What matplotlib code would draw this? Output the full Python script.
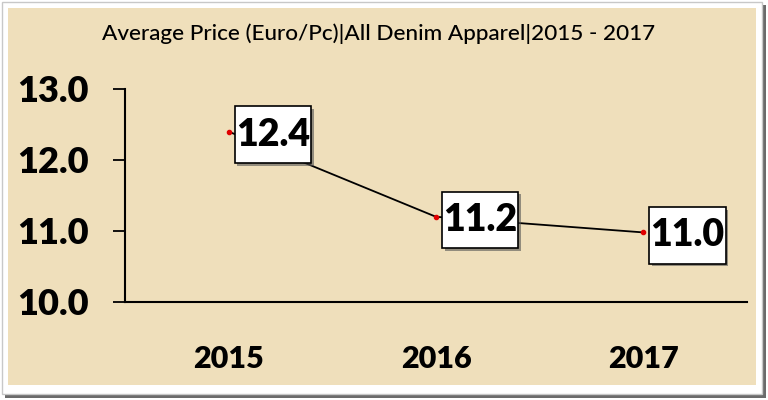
import matplotlib.pyplot as plt
import matplotlib.patheffects as pe
from matplotlib.patches import Rectangle

# Data
years = ['2015', '2016', '2017']
avg_price = [12.4, 11.2, 10.98]
price_labels = ['12.4', '11.2', '11.0']
y_ticks = [10.0, 11.0, 12.0, 13.0]

plt.rcParams['font.family'] = ['Lato', 'DejaVu Sans']

W, H = 768, 400
fig = plt.figure(figsize=(W / 100, H / 100), dpi=100)
fig.patch.set_facecolor('white')

def px_rect(x0, y0, x1, y1, **kw):
    # rectangle in image pixel coords (y down)
    r = Rectangle((x0 / W, 1 - y1 / H), (x1 - x0) / W, (y1 - y0) / H,
                  transform=fig.transFigure, **kw)
    fig.patches.append(r)

# frame: shadow, white mat, parchment
px_rect(5, 5, 766, 398, facecolor='#6b6b6b', edgecolor='none', zorder=0)
px_rect(1.5, 1.5, 762, 394, facecolor='white', edgecolor='#c8c8c8', lw=1, zorder=1)
px_rect(8, 8, 756, 385, facecolor='#efdfbb', edgecolor='none', zorder=2)

ax = fig.add_axes([125 / W, 1 - 302 / H, (747 - 125) / W, (302 - 89) / H])
ax.set_facecolor('none')
ax.set_zorder(3)

x = list(range(len(years)))
ax.plot(x, avg_price, color='black', lw=1.3, zorder=2)
ax.plot(x, avg_price, 'o', color='#e00000', ms=3, zorder=3)

for xi, yi, lab in zip(x, avg_price, price_labels):
    t = ax.annotate(lab, (xi, yi), xytext=(7, -3), textcoords='offset pixels',
                    ha='left', va='center', fontsize=27, fontweight='heavy',
                    bbox=dict(boxstyle='square,pad=0.03', mutation_aspect=10,
                              fc='white', ec='black', lw=1.2),
                    zorder=4)
    t.get_bbox_patch().set_path_effects([
        pe.SimplePatchShadow(offset=(2, -2), shadow_rgbFace='#555555', alpha=0.6),
        pe.Normal()])

ax.set_xlim(-0.5, 2.5)
ax.set_ylim(10, 13)
ax.set_xticks(x)
ax.set_xticklabels(years, fontsize=22, fontweight='heavy')
ax.set_yticks(y_ticks)
ax.set_yticklabels([f'{v:.1f}' for v in y_ticks], fontsize=26, fontweight='heavy')
ax.tick_params(axis='x', length=0, pad=31)
ax.tick_params(axis='y', length=9, width=1.3, direction='out', pad=17)

for s in ['top', 'right']:
    ax.spines[s].set_visible(False)
ax.spines['left'].set_linewidth(1.5)
ax.spines['bottom'].set_linewidth(1.5)

fig.text(379 / W, 1 - 34 / H, 'Average Price (Euro/Pc)|All Denim Apparel|2015 - 2017',
         ha='center', va='center', fontsize=16.2, fontweight='medium', zorder=5)

fig.savefig('out.png', dpi=100)
